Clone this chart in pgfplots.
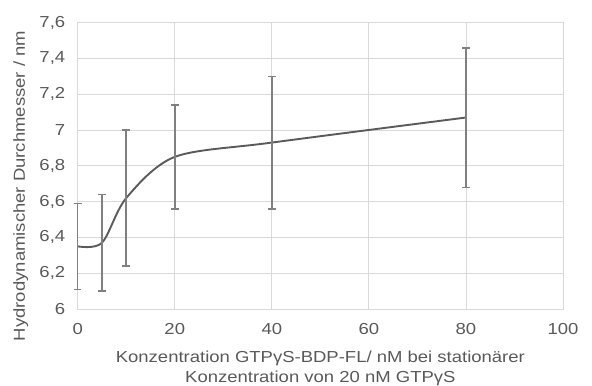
\documentclass[border=0pt]{standalone}
\usepackage{pgfplots}
\pgfplotsset{compat=1.18}
\usepackage{fontspec}
\setmainfont[FakeStretch=1.16]{Liberation Sans}
\definecolor{txt}{HTML}{595959}
\definecolor{grd}{HTML}{D9D9D9}
\definecolor{ln}{HTML}{5A5A5A}
\definecolor{eb}{HTML}{808080}
\begin{document}
\begin{tikzpicture}
\path[use as bounding box] (-77.7bp,-77bp) rectangle (514.3bp,309bp);
\begin{axis}[
  scale only axis,
  width=485.3bp, height=286.3bp,
  at={(0,0)}, anchor=south west,
  xmin=0, xmax=100, ymin=6, ymax=7.6,
  xtick={0,20,...,100},
  ytick={6,6.2,...,7.6},
  grid=major,
  major grid style={grd, line width=0.8pt},
  axis line style={grd, line width=0.8pt},
  tick style={draw=none},
  ticklabel style={font=\fontsize{16}{19}\selectfont, text=txt},
  xticklabel style={yshift=-11bp},
  yticklabel style={xshift=-9bp, /pgf/number format/fixed, /pgf/number format/precision=1},
  /pgf/number format/assume math mode=true,
  /pgf/number format/use comma,
  xlabel={Konzentration GTPγS-BDP-FL/ nM bei stationärer\\Konzentration von 20 nM GTPγS},
  xlabel style={font=\fontsize{16}{20}\selectfont, text=txt, align=center,
    at={(axis description cs:0.5,0)}, anchor=north, inner sep=0pt, yshift=-42bp},
  ylabel={Hydrodynamischer Durchmesser / nm},
  ylabel style={font=\fontsize{16}{19}\selectfont, text=txt, inner sep=0pt,
    at={(axis description cs:-0.1333,0.43)}, anchor=north},
  clip=false,
]
\addplot[ln, line width=1.9pt, smooth, tension=0.5,
  error bars/.cd, y dir=both, y explicit,
  error bar style={eb, line width=1.6pt},
  error mark options={eb, rotate=90, mark size=3.8bp, line width=1.6pt}]
  coordinates {
  (0,6.35) +- (0,0.24)
  (5,6.37) +- (0,0.27)
  (10,6.62) +- (0,0.38)
  (20,6.85) +- (0,0.29)
  (40,6.93) +- (0,0.37)
  (80,7.07) +- (0,0.39)
  };
\end{axis}
\end{tikzpicture}
\end{document}
